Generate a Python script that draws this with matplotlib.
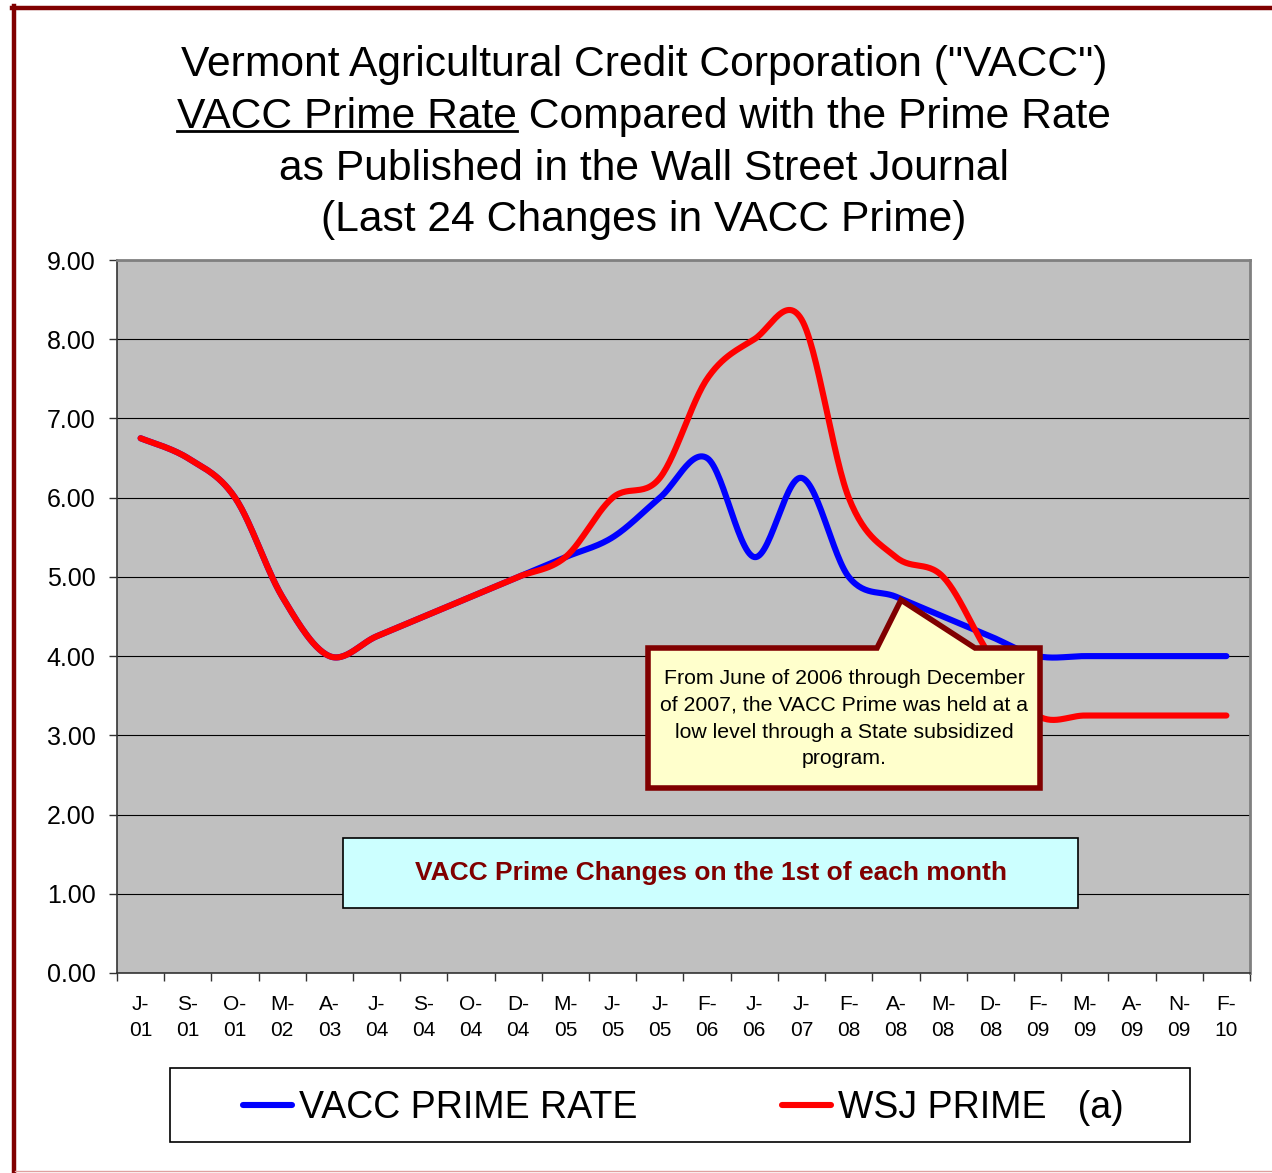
import numpy as np
import matplotlib
matplotlib.use('Agg')
import matplotlib.pyplot as plt
import matplotlib.transforms as mtransforms
from matplotlib.patches import Polygon, Rectangle
from matplotlib.lines import Line2D

plt.rcParams['font.family'] = ['Liberation Sans', 'DejaVu Sans']

# Data
months = ['J-', 'S-', 'O-', 'M-', 'A-', 'J-', 'S-', 'O-', 'D-', 'M-', 'J-', 'J-',
          'F-', 'J-', 'J-', 'F-', 'A-', 'M-', 'D-', 'F-', 'M-', 'A-', 'N-', 'F-']
years = ['01', '01', '01', '02', '03', '04', '04', '04', '04', '05', '05', '05',
         '06', '06', '07', '08', '08', '08', '08', '09', '09', '09', '09', '10']
vacc_prime = [6.75, 6.50, 6.00, 4.75, 4.00, 4.25, 4.50, 4.75, 5.00, 5.25, 5.50, 6.00,
              6.50, 5.25, 6.25, 5.00, 4.75, 4.50, 4.25, 4.00, 4.00, 4.00, 4.00, 4.00]
wsj_prime = [6.75, 6.50, 6.00, 4.75, 4.00, 4.25, 4.50, 4.75, 5.00, 5.25, 6.00, 6.25,
             7.50, 8.00, 8.25, 6.00, 5.25, 5.00, 4.00, 3.25, 3.25, 3.25, 3.25, 3.25]

W, H = 1272, 1173
DARK_RED = '#800000'


def px(x, y):
    # pixel position (from top-left) to figure fraction
    return x / W, 1 - y / H


def smooth(xs, ys, n=30):
    # Excel-like bezier smoothing through the points
    pts = np.column_stack([np.asarray(xs, float), np.asarray(ys, float)])
    out = []
    for i in range(len(pts) - 1):
        p0 = pts[max(i - 1, 0)]
        p1 = pts[i]
        p2 = pts[i + 1]
        p3 = pts[min(i + 2, len(pts) - 1)]
        c1 = p1 + (p2 - p0) / 6
        c2 = p2 - (p3 - p1) / 6
        t = np.linspace(0, 1, n)[:, None]
        seg = ((1 - t) ** 3) * p1 + 3 * ((1 - t) ** 2) * t * c1 + 3 * (1 - t) * t ** 2 * c2 + t ** 3 * p2
        out.append(seg if i == 0 else seg[1:])
    seg = np.vstack(out)
    return seg[:, 0], seg[:, 1]


fig = plt.figure(figsize=(W / 100, H / 100), dpi=100)

l, b = px(117, 973)
r, t = px(1250, 260)
ax = fig.add_axes([l, b, r - l, t - b])
ax.set_facecolor('#C0C0C0')

x = np.arange(len(months))
sx, sy = smooth(x, vacc_prime)
ax.plot(sx, sy, color='#0000FF', lw=4.4, solid_capstyle='round', zorder=3)
sx, sy = smooth(x, wsj_prime)
ax.plot(sx, sy, color='#FF0000', lw=4.4, solid_capstyle='round', zorder=3)

ax.set_xlim(-0.5, len(months) - 0.5)
ax.set_ylim(0, 9)
ax.set_yticks(np.arange(0, 10, 1))
ax.set_yticklabels([f'{v:.2f}' for v in range(10)], fontsize=18)
ax.yaxis.grid(True, color='black', lw=0.8)
ax.set_axisbelow(True)

# category labels, two lines each
ax.set_xticks(x)
ax.set_xticklabels([])
ax.set_xticks(np.arange(-0.5, len(months), 1), minor=True)
ax.tick_params(axis='x', which='major', length=0)
ax.tick_params(axis='x', which='minor', length=6, color='#333333', width=1)
ax.tick_params(axis='y', length=6, color='#333333', width=1, pad=9.5)
trans = mtransforms.blended_transform_factory(ax.transData, fig.transFigure)
for xi, m, yy in zip(x, months, years):
    ax.text(xi, px(0, 1004)[1], m, transform=trans, ha='center', va='center', fontsize=15)
    ax.text(xi, px(0, 1031)[1], yy, transform=trans, ha='center', va='center', fontsize=15)

for s in ['top', 'right']:
    ax.spines[s].set_color('#808080')
    ax.spines[s].set_linewidth(2)
for s in ['left', 'bottom']:
    ax.spines[s].set_color('#333333')
    ax.spines[s].set_linewidth(1.2)

# Title
title_lines = ['Vermont Agricultural Credit Corporation ("VACC")',
               'VACC Prime Rate Compared with the Prime Rate',
               'as Published in the Wall Street Journal',
               '(Last 24 Changes in VACC Prime)']
title_y = [65, 117, 169, 220]
cx = 644
texts = []
for line, yy in zip(title_lines, title_y):
    texts.append(fig.text(*px(cx, yy), line, ha='center', va='center', fontsize=30.7))

# underline "VACC Prime Rate"
renderer = fig.canvas.get_renderer()
bb = texts[1].get_window_extent(renderer)
probe = fig.text(0, 0, 'VACC Prime Rate', fontsize=30.7)
pw = probe.get_window_extent(renderer).width
probe.remove()
x0 = bb.x0 / W
x1 = (bb.x0 + pw) / W
uy = px(0, 131)[1]
fig.add_artist(Line2D([x0, x1], [uy, uy], color='black', lw=2))

# Callout
callout = [(648, 648), (877, 648), (901, 600), (975, 648), (1040, 648),
           (1040, 788), (648, 788)]
fig.add_artist(Polygon([px(a, c) for a, c in callout], closed=True,
                       facecolor='#FFFFCC', edgecolor=DARK_RED, lw=4, zorder=5))
callout_lines = ['From June of 2006 through December', 'of 2007, the VACC Prime was held at a',
                 'low level through a State subsidized', 'program.']
for i, line in enumerate(callout_lines):
    fig.text(*px(844, 678 + 27 * i), line, ha='center', va='center', fontsize=15.3, zorder=6)

# Note box
fig.add_artist(Rectangle(px(343, 908), (1078 - 343) / W, (908 - 838) / H,
                         facecolor='#CCFFFF', edgecolor='black', lw=1.2, zorder=5))
fig.text(*px(711, 873), 'VACC Prime Changes on the 1st of each month', ha='center', va='center',
         fontsize=19, fontweight='bold', color=DARK_RED, zorder=6)

# Legend box
fig.add_artist(Rectangle(px(170, 1142), (1190 - 170) / W, (1142 - 1068) / H,
                         facecolor='white', edgecolor='black', lw=1.2, zorder=5))
ly = px(0, 1105)[1]
ty = px(0, 1108)[1]
fig.add_artist(Line2D([243 / W, 292 / W], [ly, ly], color='#0000FF', lw=4.4,
                      solid_capstyle='round', zorder=6))
fig.text(299 / W, ty, 'VACC PRIME RATE', ha='left', va='center', fontsize=27, zorder=6)
fig.add_artist(Line2D([782 / W, 831 / W], [ly, ly], color='#FF0000', lw=4.4,
                      solid_capstyle='round', zorder=6))
fig.text(838 / W, ty, 'WSJ PRIME   (a)', ha='left', va='center', fontsize=27, zorder=6)

# Outer border
fig.add_artist(Line2D([13.5 / W, 13.5 / W], [0, px(0, 6)[1]], color=DARK_RED, lw=3.2))
fig.add_artist(Line2D([12 / W, 1], [px(0, 7.5)[1], px(0, 7.5)[1]], color=DARK_RED, lw=3.2))
fig.add_artist(Line2D([15 / W, 1], [px(0, 1171)[1], px(0, 1171)[1]], color='#E0A0A0', lw=1))

fig.savefig('out.png', dpi=100)
